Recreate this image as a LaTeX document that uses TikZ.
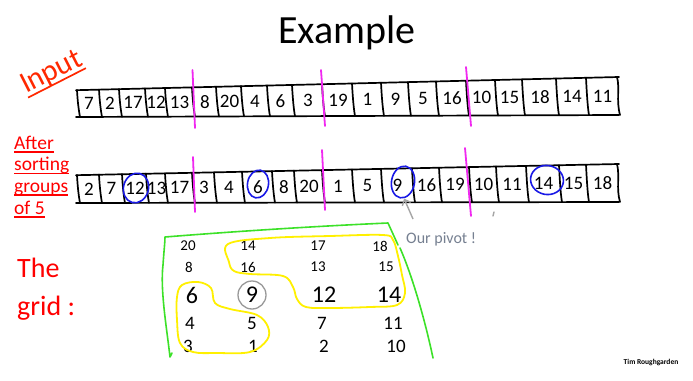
\documentclass[tikz,border=0pt]{standalone}
\usepackage{fontspec}
\setmainfont{Carlito}
\usetikzlibrary{shapes.geometric,arrows.meta}

\definecolor{inred}{RGB}{255,40,0}
\definecolor{lblred}{RGB}{255,0,0}
\definecolor{sepmag}{RGB}{240,40,240}
\definecolor{ringblue}{RGB}{25,25,230}
\definecolor{hiyellow}{RGB}{255,240,0}
\definecolor{higreen}{RGB}{60,225,40}
\definecolor{notegray}{RGB}{118,128,145}
\definecolor{arrowgray}{RGB}{165,165,165}

% underline drawn at a fixed distance below the baseline:
% \drawul{thickness}{drop}{text}
\newcommand\drawul[3]{\setbox0\hbox{#3}\rlap{\rule[-#2]{\wd0}{#1}}\box0}

\begin{document}
\begin{tikzpicture}[x=1pt,y=-1pt,
  ink/.style={line width=1.7pt, line cap=round, line join=round},
  sepline/.style={draw=sepmag, line width=1.8pt, line cap=round},
  ring/.style={draw=ringblue, line width=1.6pt, ellipse, inner sep=0pt},
  cellnum/.style={font=\fontsize{19}{19}\selectfont, inner sep=0pt},
  gridsmall/.style={font=\fontsize{15}{15}\selectfont, inner sep=0pt},
  gridmid/.style={font=\fontsize{19}{19}\selectfont, inner sep=0pt},
  gridbig/.style={font=\fontsize{24}{24}\selectfont, inner sep=0pt},
  loop/.style={draw=hiyellow, line width=1.8pt, line join=round},
  fence/.style={draw=higreen, line width=1.6pt, line cap=round, line join=round},
  sidelabel/.style={text=lblred, font=\fontsize{19.5}{22}\selectfont, anchor=base west, inner sep=0pt},
  bigred/.style={text=lblred, font=\fontsize{28}{28}\selectfont, anchor=base west, inner sep=0pt},
]
\useasboundingbox[fill=white] (0,0) rectangle (693,380);

% ---------- title and side labels ----------
\node[font=\fontsize{40}{48}\selectfont, anchor=base, inner sep=0pt] (title) at (347,43) {Example};

\node[text=inred, font=\fontsize{30}{30}\selectfont, anchor=base west, rotate=27, inner sep=0pt]
  (inputlbl) at (26,94) {\drawul{1.7pt}{5pt}{Input}};

\node[sidelabel] (after1) at (14,149) {\drawul{1.3pt}{3.6pt}{After}};
\node[sidelabel] (after2) at (14,170.5) {\drawul{1.3pt}{3.6pt}{sorting}};
\node[sidelabel] (after3) at (14,192) {\drawul{1.3pt}{3.6pt}{groups}};
\node[sidelabel] (after4) at (14,214) {\drawul{1.3pt}{3.6pt}{of 5}};

\node[bigred] (gridlbl1) at (17,277) {The};
\node[bigred] (gridlbl2) at (17,315) {grid :};

\node[font=\bfseries\fontsize{7.5}{8}\selectfont, inner sep=0pt] (credit) at (651,362) {Tim Roughgarden};

% ---------- row 1: the input ----------
\draw[ink] (76,90.2) -- (619,77);
\draw[ink] (76,117) -- (619,115);
\foreach \x in {78,100,120,146,166,193,217,242,268,293,323,353,382,409,437,467,496,523,557,587} {
  \pgfmathsetmacro\yt{90-13*(\x-78)/540}
  \pgfmathsetmacro\yb{117-2*(\x-78)/540}
  \draw[ink] (\x-1,\yt) .. controls (\x-0.5,\yt+10) and (\x+0.5,\yb-8) .. (\x+2,\yb);
}
\draw[ink] (617,77) .. controls (620,88) and (616,100) .. (620,115);
\foreach \x/\n [count=\i] in {89/7,110/2,133/17,156/12,179.5/13,205/8,229.5/20,255/4,280.5/6,308/3,
    338/19,367.5/1,395.5/9,423/5,452/16,481.5/10,509.5/15,540/18,572/14,602.5/11} {
  \pgfmathsetmacro\yc{103.5-7.5*(\x-78)/540}
  \node[cellnum] (ra\i) at (\x,\yc) {\n};
}
\draw[sepline] (192.5,70) -- (195,128);
\draw[sepline] (321,70) -- (325,126);
\draw[sepline] (466,67) -- (471,126);

% ---------- row 2: groups of five sorted ----------
\draw[ink] (76,175.2) -- (619,164);
\draw[ink] (76,203) -- (619,202);
\foreach \x in {78,100,123,147,166,193,215,243,273,295,323,353,382,413,440,470,497,527,560,587} {
  \pgfmathsetmacro\yt{175-11*(\x-78)/540}
  \pgfmathsetmacro\yb{203-1*(\x-78)/540}
  \draw[ink] (\x-1,\yt) .. controls (\x-0.5,\yt+10) and (\x+0.5,\yb-8) .. (\x+2,\yb);
}
\draw[ink] (617,164) .. controls (620,176) and (616,188) .. (620,202);
\foreach \x/\n [count=\i] in {89/2,111.5/7,135/12,156.5/13,179.5/17,204/3,229/4,258/6,284/8,309/20,
    338/1,367.5/5,397.5/9,426.5/16,455/19,483.5/10,512/11,543.5/14,573.5/15,602.5/18} {
  \pgfmathsetmacro\yc{189-6*(\x-78)/540}
  \node[cellnum] (rb\i) at (\x,\yc) {\n};
}
\draw[sepline] (193,157) -- (195,212);
\draw[sepline] (322,150) -- (325,210);
\draw[sepline] (465,148) -- (471,216);

% medians of each group
\node[ring, minimum width=25pt, minimum height=30pt, rotate=-15] (m1) at (136,188) {};
\node[ring, minimum width=21pt, minimum height=28pt, rotate=-10] (m2) at (258,184) {};
\node[ring, minimum width=23pt, minimum height=32pt, rotate=-10] (m3) at (403,182) {};
\node[ring, minimum width=33pt, minimum height=29pt, rotate=-10] (m4) at (547,180) {};

% ---------- pivot note ----------
\node[text=notegray, font=\fontsize{16}{16}\selectfont, anchor=base west, inner sep=0pt]
  (pivotnote) at (406,243) {Our pivot !};
\coordinate (pvtail) at (413,219);
\draw[arrowgray, line width=1.4pt, -{Straight Barb[length=5pt,width=9pt]}]
  (pvtail) -- ([xshift=4pt]m3.south);
\draw[arrowgray, line width=1.4pt, line cap=round] (494,212) -- (493,216);

% ---------- the grid of groups ----------
\foreach \x/\n [count=\i] in {188/20,248/14,318/17,380/18} \node[gridsmall] (ga\i) at (\x,246) {\n};
\foreach \x/\n [count=\i] in {189/8,248/16,318/13,386/15} \node[gridsmall] (gb\i) at (\x,267) {\n};
\foreach \x/\n [count=\i] in {192/6,252/9,324/12,389/14} \node[gridbig] (gc\i) at (\x,295) {\n};
\foreach \x/\n [count=\i] in {190/4,252/5,322/7,393/11} \node[gridmid] (gd\i) at (\x,323) {\n};
\foreach \x/\n [count=\i] in {188/3,253/1,324/2,396/10} \node[gridmid] (ge\i) at (\x,346) {\n};

\draw[draw=gray!80, line width=1.3pt] (gc2) circle (14pt);

% elements known to be larger / smaller than the pivot
\draw[loop] plot[smooth cycle, tension=0.6] coordinates {
  (228,244) (270,238) (330,236) (383,235) (393,240) (398,256) (402,275) (405,293)
  (397,305) (370,307) (330,308) (306,307) (297,299) (293,287) (283,276) (250,274)
  (234,271) (229,262)};
\draw[loop] plot[smooth cycle, tension=0.6] coordinates {
  (182,285) (198,282) (211,288) (215,303) (230,309) (257,315) (268,327) (267,340)
  (250,352) (217,353) (193,352) (180,343) (177,320) (177,297)};

% outline of the grid
\draw[fence] (172,353) -- (170,357) .. controls (167,330) and (160,290) .. (163,265)
  .. controls (164,250) and (165,242) .. (165,237)
  .. controls (240,231) and (320,226) .. (388,223) -- (398,245);
\draw[fence] (400,248) .. controls (412,275) and (425,320) .. (433,358);
\end{tikzpicture}
\end{document}
